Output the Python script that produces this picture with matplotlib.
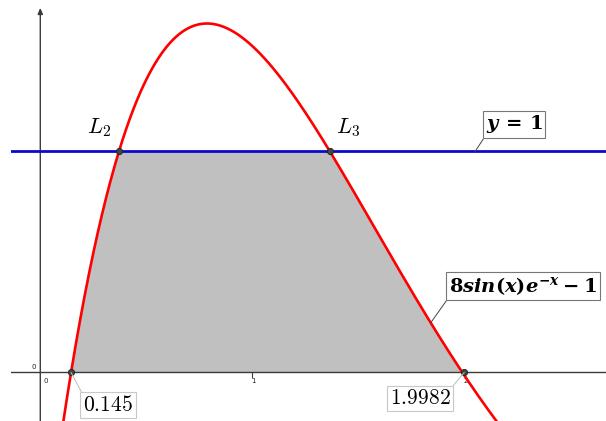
import numpy as np
import matplotlib
matplotlib.use("Agg")
import matplotlib.pyplot as plt

# --- data -------------------------------------------------------------
roots = [0.145, 1.9982]          # zeros of f bounding the region
root_labels = ["0.145", "1.9982"]
level = 1.0                      # horizontal line y = 1
tick_x = [1, 2]
tick_y = [1]
curve_label = r"$8sin(x)e^{-x}-1$"
line_label = r"$y\,=\,1$"
point_names = [r"$L_2$", r"$L_3$"]


def f(x):
    return 8 * np.sin(x) * np.exp(-x) - 1


def solve(g, a, b, n=80):
    for _ in range(n):
        m = 0.5 * (a + b)
        if np.sign(g(a)) == np.sign(g(m)):
            a = m
        else:
            b = m
    return 0.5 * (a + b)


peak = np.pi / 4
cross = [solve(lambda t: f(t) - level, roots[0], peak),
         solve(lambda t: f(t) - level, peak, roots[1])]

plt.rcParams["mathtext.it"] = "DejaVu Serif:italic:bold"
plt.rcParams["mathtext.rm"] = "DejaVu Serif:bold"
plt.rcParams["mathtext.bf"] = "DejaVu Serif:bold"

W, H = 606, 421
fig = plt.figure(figsize=(W / 100, H / 100), dpi=100)
ax = fig.add_axes([11 / W, 0, (W - 11) / W, 1])
ax.set_xlim(-0.138, 2.666)
ax.set_ylim(-0.2195, 1.6855)
ax.axis("off")

axis_col = "#3a3a3a"
# axes
ax.axhline(0, color=axis_col, lw=1.0, zorder=3)
ax.annotate("", xy=(0, 1.65), xytext=(0, -0.2195),
            arrowprops=dict(arrowstyle="-|>,head_length=0.35,head_width=0.15",
                            color=axis_col, lw=1.0, shrinkA=0, shrinkB=0),
            zorder=3)
ax.plot(tick_x, [0] * len(tick_x), ls="none", marker=3, ms=4,
        mec=axis_col, mew=0.8, zorder=3)
ax.plot([0] * len(tick_y), tick_y, ls="none", marker=0, ms=6,
        mec=axis_col, mew=0.8, zorder=3)
for t in tick_x:
    ax.annotate(str(t), (t, 0), xytext=(1, -9), textcoords="offset pixels",
                ha="center", va="center", fontsize=5, color="#222222")
ax.annotate("0", (0, 0), xytext=(-7, 5), textcoords="offset pixels",
            ha="center", va="center", fontsize=5, color="#222222")
ax.annotate("0", (0, 0), xytext=(5, -9), textcoords="offset pixels",
            ha="center", va="center", fontsize=5, color="#222222")

# shaded region between x-axis and min(f, 1)
xs = np.linspace(roots[0], roots[1], 600)
ax.fill_between(xs, 0, np.minimum(f(xs), level), color="#c0c0c0",
                lw=0, zorder=1)

# horizontal line and curve
ax.axhline(level, color="#0a0acc", lw=2.0, zorder=4)
xc = np.linspace(0.0, 2.7, 800)
ax.plot(xc, f(xc), color="#ff0000", lw=1.9, zorder=5)

# points
px = list(roots) + cross
py = [0, 0] + [level, level]
ax.plot(px, py, ls="none", marker="o", ms=4.5, mfc="#444444",
        mec="#222222", mew=0.6, zorder=6)

# point names
for xv, name, off in zip(cross, point_names, [(-20, 24), (18, 24)]):
    ax.annotate(name, (xv, level), xytext=off, textcoords="offset pixels",
                ha="center", va="center", fontsize=16, math_fontfamily="cm")

# value labels of the roots
for xv, lab, off, rp in zip(roots, root_labels,
                            [(37, -32.5), (-44, -26)], [(0, 1), (1, 1)]):
    ax.annotate("$" + lab + "$", (xv, 0), xytext=off,
                textcoords="offset pixels", ha="center", va="center",
                fontsize=15.5, math_fontfamily="cm",
                bbox=dict(boxstyle="square,pad=0.12", fc="white",
                          ec="#c8c8c8", lw=0.8),
                arrowprops=dict(arrowstyle="-", color="#bbbbbb", lw=0.7,
                                shrinkA=0, shrinkB=0, relpos=rp),
                zorder=7)

# captions for line and curve
ax.annotate(line_label, (2.049, level), xytext=(39, 27),
            textcoords="offset pixels", ha="center", va="center",
            fontsize=14, math_fontfamily="custom",
            bbox=dict(boxstyle="square,pad=0.15", fc="white",
                      ec="#777777", lw=0.8),
            arrowprops=dict(arrowstyle="-", color="#444444", lw=0.7,
                            shrinkA=0, shrinkB=0, relpos=(0, 0)),
            zorder=7)
xa = 1.84
ax.annotate(curve_label, (xa, f(xa)), xytext=(92, 36.5),
            textcoords="offset pixels", ha="center", va="center",
            fontsize=14, math_fontfamily="custom",
            bbox=dict(boxstyle="square,pad=0.15", fc="white",
                      ec="#777777", lw=0.8),
            arrowprops=dict(arrowstyle="-", color="#444444", lw=0.7,
                            shrinkA=0, shrinkB=0, relpos=(0, 0)),
            zorder=7)

fig.savefig("out.png", dpi=100, facecolor="white")
